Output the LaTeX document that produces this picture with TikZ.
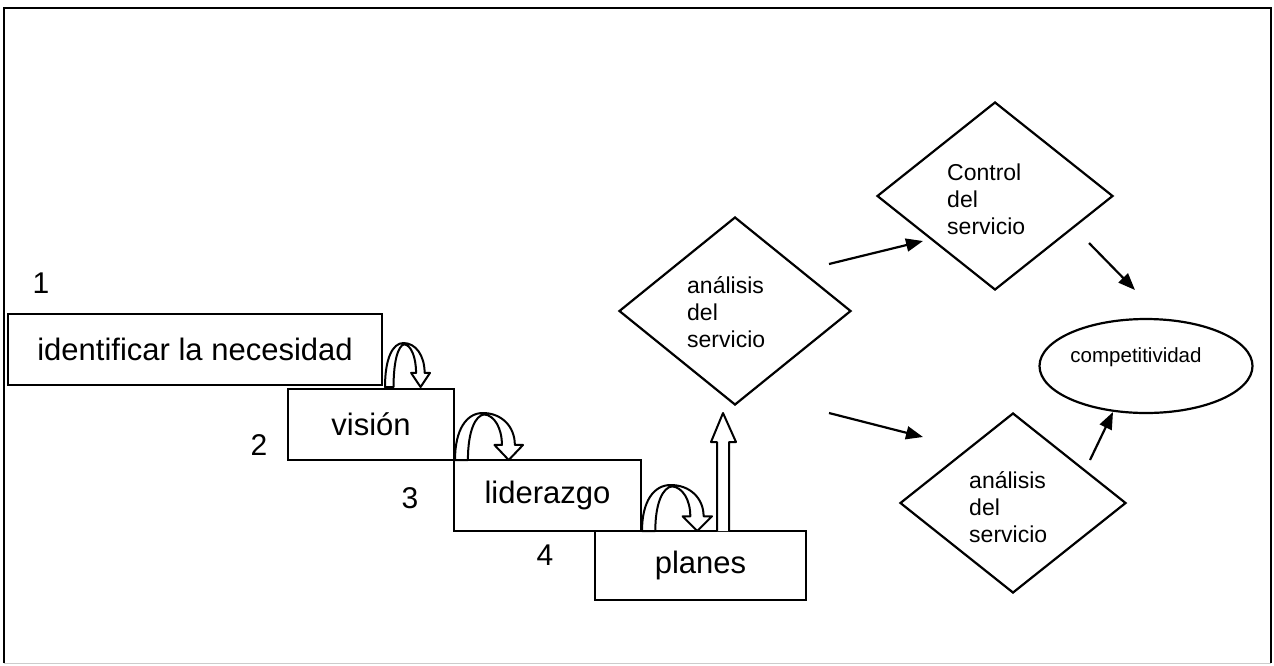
\documentclass[tikz,border=0pt]{standalone}
\usepackage{fontspec}
\setmainfont{Liberation Sans}
\usetikzlibrary{shapes.geometric,arrows.meta}
\tikzset{
  stepbox/.style={draw,line width=2.2pt,inner sep=0pt,font=\fontsize{31}{36}\selectfont},
  numlabel/.style={inner sep=0pt,font=\fontsize{30}{36}\selectfont},
  dia/.style={shape=diamond,draw,line width=2.2pt,inner sep=0pt},
  diatext/.style={align=left,inner sep=0pt,anchor=west,font=\fontsize{23}{27}\selectfont},
  conn/.style={line width=2.2pt,-{Triangle[length=17pt,width=13pt]}},
  bendshape/.style={draw,fill=white,line width=2pt,line join=round},
  frameline/.style={line width=2pt},
}
\newcommand{\mybendarrow}[4]{%
  \begin{scope}[shift={(#1,#2)},x=#3pt,y=#4pt]
    \path[bendshape] (0,0) .. controls (0,0.65) and (0.17,1) .. (0.41,1)
      .. controls (0.68,1) and (0.88,0.72) .. (0.88,0.32)
      -- (1,0.32) -- (0.79,0) -- (0.58,0.32) -- (0.69,0.32)
      .. controls (0.69,0.68) and (0.58,0.95) .. (0.43,0.97)
      .. controls (0.30,0.95) and (0.19,0.62) .. (0.19,0) -- cycle;
  \end{scope}}
\begin{document}
\begin{tikzpicture}[x=1pt,y=-1pt]
\useasboundingbox (0,0) rectangle (1274,665);
% frame
\draw[frameline] (4,663) -- (4,8) -- (1271,8) -- (1271,663);
\draw[gray!40,line width=1pt] (4,663) -- (1271,663);

% step boxes
\node[stepbox,minimum width=374pt,minimum height=71pt] (b1) at (195,349.5) {identificar la necesidad};
\node[stepbox,minimum width=166pt,minimum height=71pt] (b2) at (371,424.5) {visión};
\node[stepbox,minimum width=187pt,minimum height=71pt] (b3) at (547.5,495.5) {liderazgo};
\node[stepbox,minimum width=211pt,minimum height=69pt] (b4) at (700.5,565.5) {planes};

% numbers
\node[numlabel] (n1) at (41,283) {1};
\node[numlabel] (n2) at (259,445) {2};
\node[numlabel] (n3) at (410,498) {3};
\node[numlabel] (n4) at (545,555) {4};

% curved block arrows
\mybendarrow{385}{387}{45}{44}
\mybendarrow{455}{460}{68}{47}
\mybendarrow{642}{531}{70}{46}

% upward block arrow from planes
\coordinate (ub) at (723,531);
\path[bendshape] ([xshift=-6pt]ub) -- ++(0,-89) -- ++(-6,0) -- ++(12,-29) -- ++(13,29) -- ++(-7,0) -- ++(0,89);

% diamonds
\node[dia,minimum width=232pt,minimum height=188pt] (d1) at (735,311) {};
\node[diatext] (t1) at (687,312) {análisis\\del\\servicio};
\node[dia,minimum width=236pt,minimum height=188pt] (d2) at (995,196) {};
\node[diatext] (t2) at (947,199) {Control\\del\\servicio};
\node[dia,minimum width=226pt,minimum height=180pt] (d3) at (1013,503) {};
\node[diatext] (t3) at (969,507) {análisis\\del\\servicio};

% ellipse
\node[draw,ellipse,line width=2.2pt,inner sep=0pt,minimum width=213pt,minimum height=94pt] (e) at (1146,366) {};
\node[inner sep=0pt,font=\fontsize{20.5}{24}\selectfont] (et) at (1136,357) {competitividad};

% connectors
\coordinate (a1s) at (829,264); \coordinate (a1e) at (923,241);
\coordinate (a2s) at (1089,243); \coordinate (a2e) at (1135,290);
\coordinate (a3s) at (829,413); \coordinate (a3e) at (923,437);
\coordinate (a4s) at (1090,460); \coordinate (a4e) at (1113,412);
\draw[conn] (a1s) -- (a1e);
\draw[conn] (a2s) -- (a2e);
\draw[conn] (a3s) -- (a3e);
\draw[conn] (a4s) -- (a4e);
\end{tikzpicture}
\end{document}
